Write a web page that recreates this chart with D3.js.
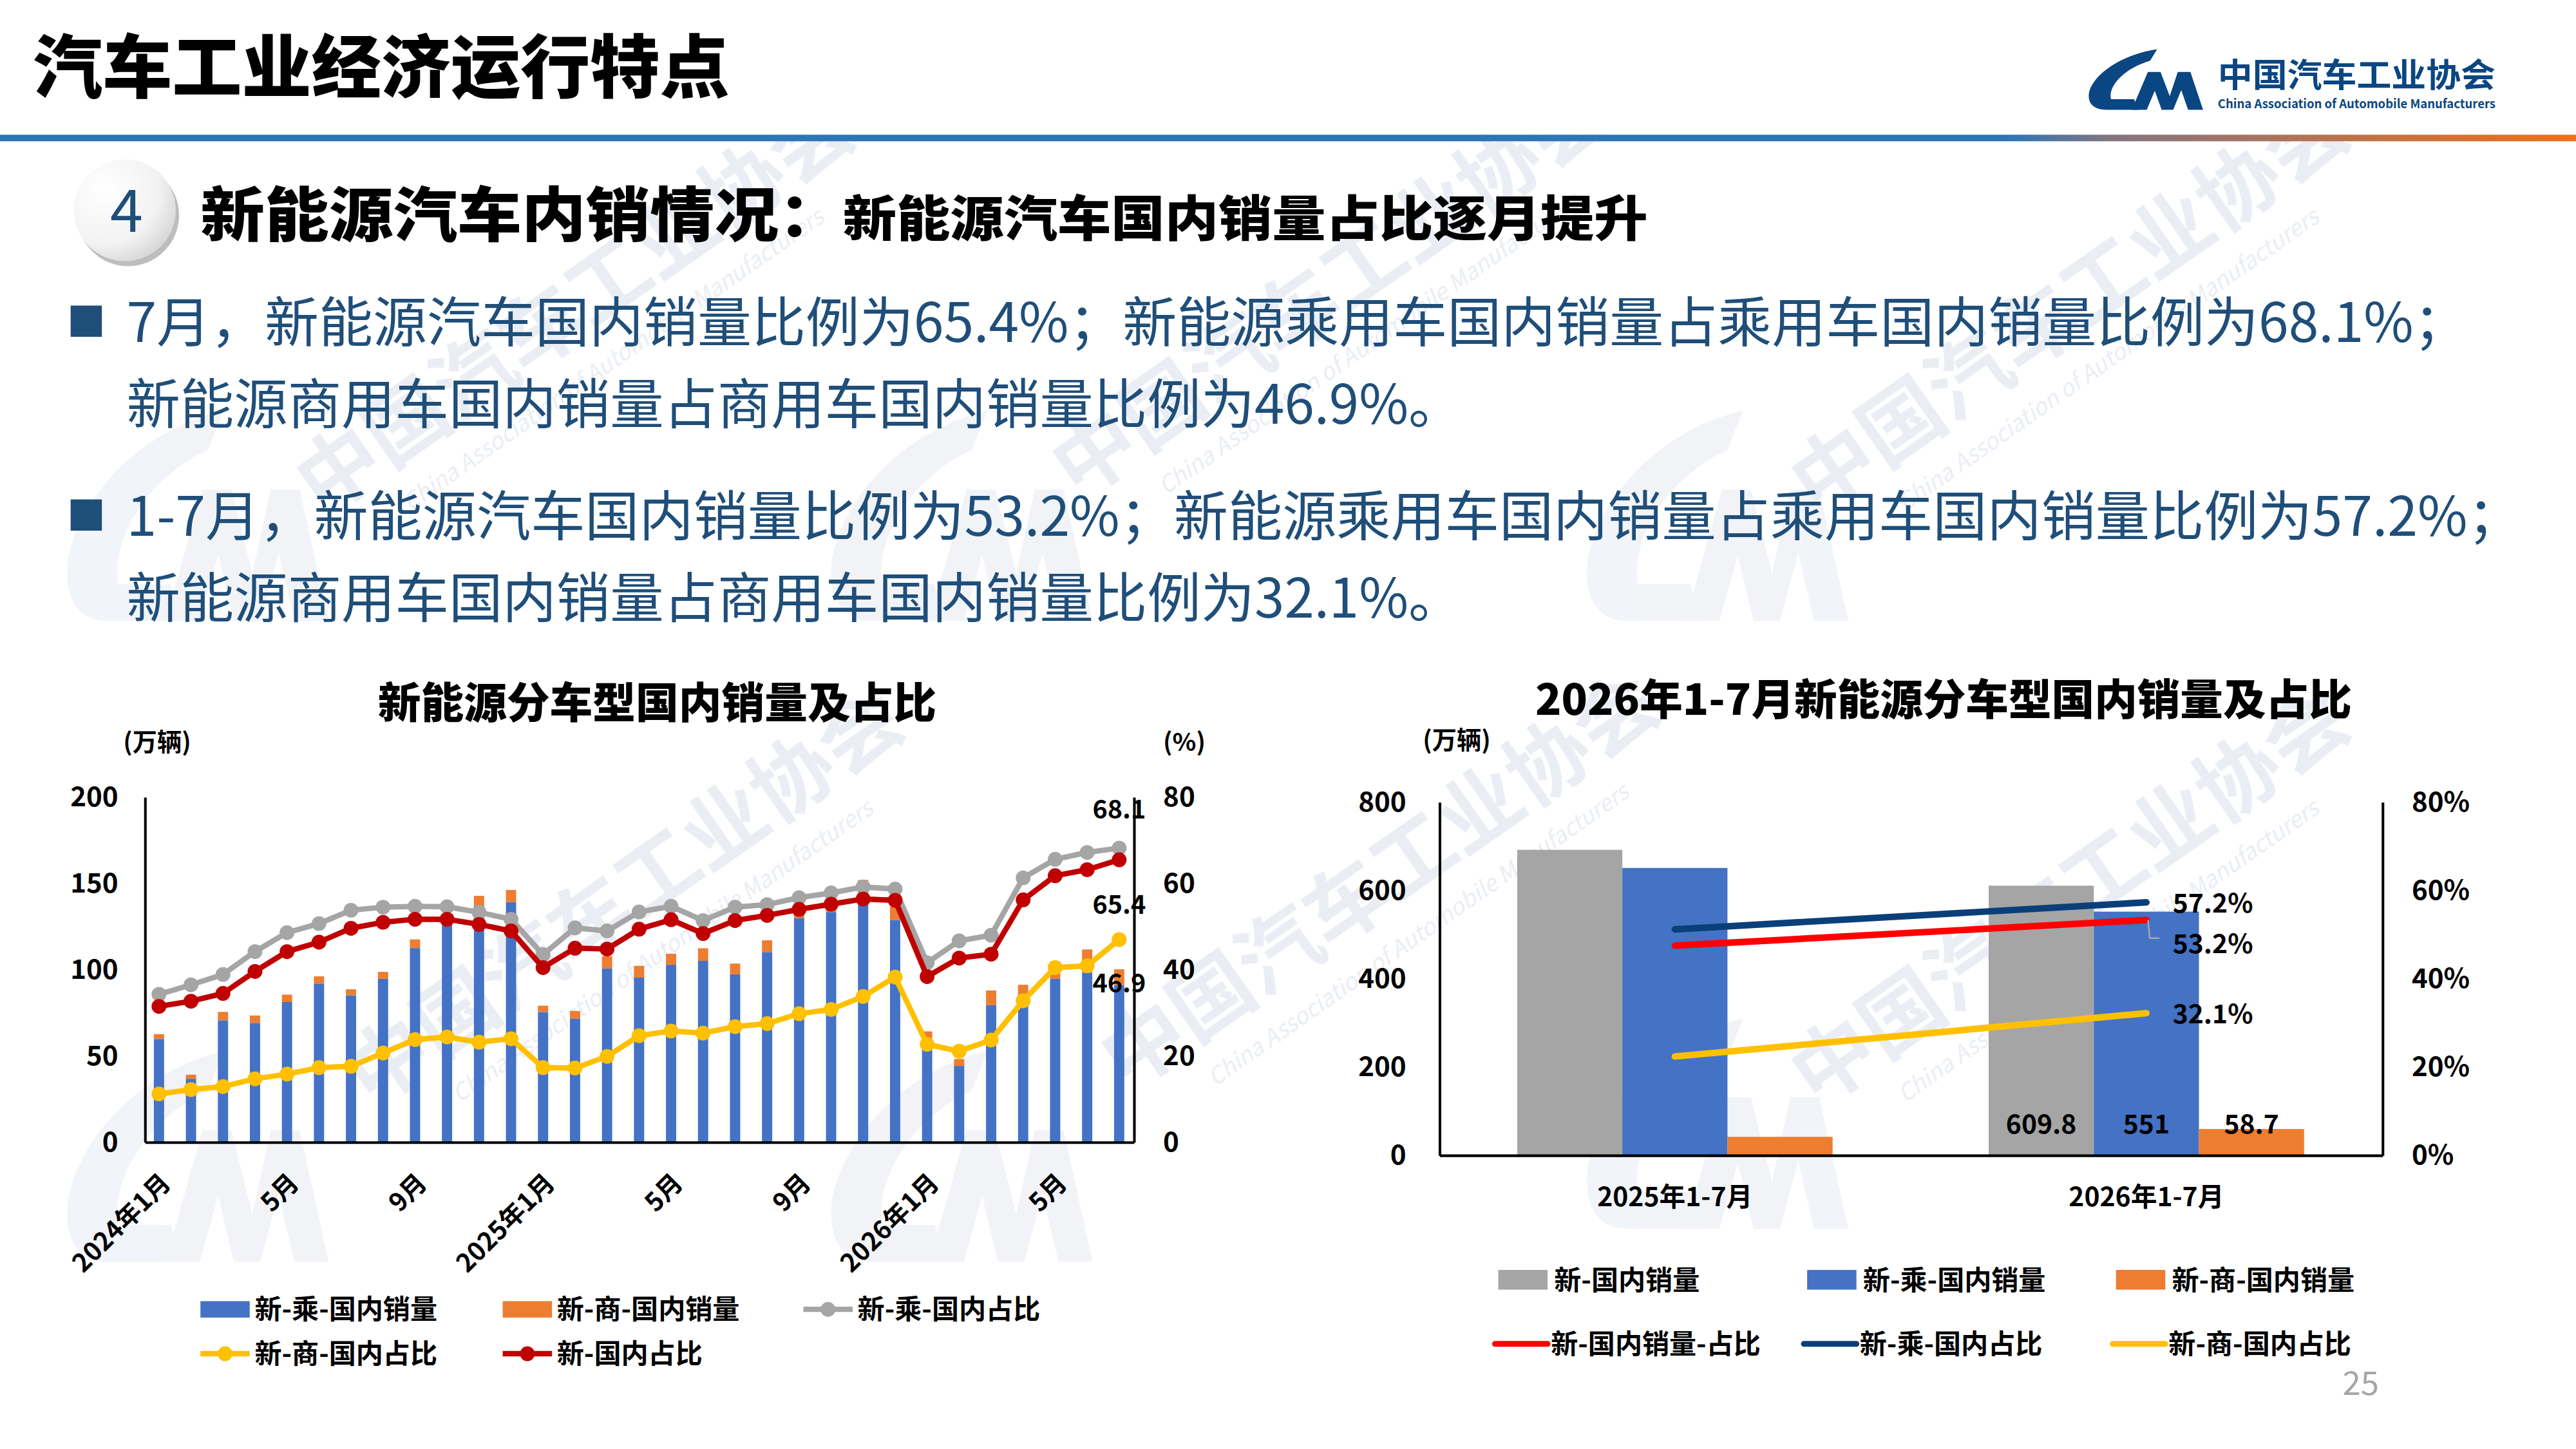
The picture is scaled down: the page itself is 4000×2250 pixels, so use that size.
<!DOCTYPE html>
<html>
<head>
<meta charset="utf-8">
<script src="https://cdn.jsdelivr.net/npm/d3@7"></script>
<style>
  html, body { margin: 0; padding: 0; background: #fff; }
  svg { display: block; }
  text { font-family: "Noto Sans CJK SC", "Noto Sans", sans-serif; }
</style>
</head>
<body>
<div id="slide"></div>
<script>
// ---- data ----
const months = ["2024年1月","2月","3月","4月","5月","6月","7月","8月","9月","10月","11月","12月",
  "2025年1月","2月","3月","4月","5月","6月","7月","8月","9月","10月","11月","12月",
  "2026年1月","2月","3月","4月","5月","6月","7月"];
const paxSales = [59.6,36.5,70.4,68.9,81.0,91.7,84.9,94.5,112.3,125.8,136.9,139.0,
  75.2,71.5,100.5,95.2,102.6,104.9,97.1,110.0,129.8,133.2,146.0,128.6,
  59.0,44.0,79.2,85.0,94.5,98.1,90.9];
const comSales = [2.8,2.4,4.9,4.3,4.3,4.2,3.5,4.0,5.0,3.5,5.7,7.0,
  3.7,4.3,7.1,6.8,6.4,7.3,6.2,6.8,4.0,4.5,5.8,7.9,
  5.0,4.0,8.5,6.0,10.0,13.4,9.1];
const paxShare = [34.2,36.4,38.8,44.1,48.5,50.6,53.7,54.4,54.6,54.5,53.2,51.6,
  43.4,49.6,48.9,53.3,54.6,51.3,54.4,55.0,56.6,57.7,59.1,58.6,
  41.5,46.6,47.9,61.2,65.5,67.1,68.1];
const comShare = [11.1,12.1,12.8,14.6,15.7,17.2,17.5,20.6,23.7,24.3,23.1,23.9,
  17.2,17.1,19.8,24.6,25.7,25.2,26.7,27.4,29.7,30.7,33.7,38.2,
  22.6,21.0,23.6,32.7,40.4,40.8,46.9];
const totalShare = [31.4,32.6,34.4,39.5,44.1,46.3,49.5,50.9,51.6,51.6,50.4,48.9,
  40.4,44.9,44.7,49.3,51.5,48.3,51.3,52.5,53.9,55.1,56.3,56.0,
  38.3,42.6,43.5,56.1,61.7,63.1,65.4];
const monthTickIdx = [0,4,8,12,16,20,24,28];

const periods = ["2025年1-7月","2026年1-7月"];
const ytdTotal = [691, 609.8];
const ytdPax = [650, 551];
const ytdCom = [41, 58.7];
const ytdTotalShare = [47.4, 53.2];
const ytdPaxShare = [51.1, 57.2];
const ytdComShare = [22.3, 32.1];

const bullets = [
  "7月，新能源汽车国内销量比例为65.4%；新能源乘用车国内销量占乘用车国内销量比例为68.1%；",
  "新能源商用车国内销量占商用车国内销量比例为46.9%。",
  "1-7月，新能源汽车国内销量比例为53.2%；新能源乘用车国内销量占乘用车国内销量比例为57.2%；",
  "新能源商用车国内销量占商用车国内销量比例为32.1%。"
];

// ---- canvas: slide drawn in 1568x882 units, scaled to 4000x2250 ----
const W = 1568, H = 882;
const svg = d3.select("#slide").append("svg")
  .attr("width", 4000).attr("height", 2250)
  .attr("viewBox", `0 0 ${W} ${H}`);

const defs = svg.append("defs");
const lg = defs.append("linearGradient").attr("id", "rule").attr("x1", 0).attr("x2", 1);
[[0, "#2e75b6"], [0.78, "#2e75b6"], [0.82, "#857580"], [1, "#f07018"]].forEach(s =>
  lg.append("stop").attr("offset", s[0]).attr("stop-color", s[1]));
const rg = defs.append("radialGradient").attr("id", "badge").attr("cx", 0.3).attr("cy", 0.3).attr("r", 0.9);
rg.append("stop").attr("offset", 0).attr("stop-color", "#ffffff");
rg.append("stop").attr("offset", 0.6).attr("stop-color", "#f2f2f2");
rg.append("stop").attr("offset", 1).attr("stop-color", "#c8c8c8");

// ---- watermark ----
const wm = svg.append("g").attr("fill", "#e6ebf2");
const logoPathC = "M60 0 C32 6 6 30 1 56 C-1 70 4 80 16 80 L44 80 L40 66 L20 66 C17 50 30 26 54 15 Z";
const logoPathM = "M38 80 L52 30 L63 30 L71 62 L78 30 L89 30 L100 80 L87 80 L81 54 L74 80 L64 80 L58 55 L51 80 Z";
[[40, 250], [505, 250], [965, 250], [40, 640], [505, 640], [965, 620]].forEach(p => {
  const g = wm.append("g").attr("transform", `translate(${p[0]},${p[1]}) scale(1.6)`).attr("opacity", 0.55);
  g.append("path").attr("d", logoPathC);
  g.append("path").attr("d", logoPathM);
});
[[360, 200], [820, 190], [1270, 200], [390, 560], [850, 550], [1270, 560]].forEach(p => {
  const g = wm.append("g").attr("transform", `translate(${p[0]},${p[1]}) rotate(-35)`).attr("opacity", 0.8);
  g.append("text").attr("text-anchor", "middle").attr("font-size", 50).attr("font-weight", 700)
    .text("中国汽车工业协会");
  g.append("text").attr("text-anchor", "middle").attr("y", 28).attr("font-size", 14)
    .attr("font-style", "italic").attr("font-family", "Open Sans")
    .text("China Association of Automobile Manufacturers");
});

// ---- header ----
svg.append("rect").attr("x", 0).attr("y", 0).attr("width", W).attr("height", 82).attr("fill", "#fff");
svg.append("text").attr("x", 20).attr("y", 56).attr("font-size", 42).attr("font-weight", 900)
  .attr("textLength", 424).attr("lengthAdjust", "spacingAndGlyphs").text("汽车工业经济运行特点");
svg.append("rect").attr("x", 0).attr("y", 82).attr("width", W).attr("height", 4).attr("fill", "url(#rule)");

const logo = svg.append("g").attr("transform", "translate(1271,30) scale(0.7,0.46)").attr("fill", "#0a4682");
logo.append("path").attr("d", logoPathC);
logo.append("path").attr("d", logoPathM);
svg.append("text").attr("x", 1350).attr("y", 53).attr("font-size", 20).attr("font-weight", 700)
  .attr("fill", "#0a4682").attr("textLength", 169).attr("lengthAdjust", "spacingAndGlyphs").text("中国汽车工业协会");
svg.append("text").attr("x", 1350).attr("y", 66).attr("font-size", 7.5).attr("font-weight", 700)
  .attr("font-family", "Roboto").attr("fill", "#0a4682").attr("textLength", 169)
  .attr("lengthAdjust", "spacingAndGlyphs").text("China Association of Automobile Manufacturers");

// section badge + heading
svg.append("ellipse").attr("cx", 78).attr("cy", 131).attr("rx", 31).attr("ry", 31).attr("fill", "#bdbdbd");
svg.append("ellipse").attr("cx", 76).attr("cy", 128).attr("rx", 31).attr("ry", 31).attr("fill", "url(#badge)");
svg.append("text").attr("x", 77).attr("y", 141).attr("text-anchor", "middle").attr("font-size", 36)
  .attr("font-family", "Open Sans").attr("fill", "#1f4e79").text("4");
svg.append("text").attr("x", 122).attr("y", 144).attr("font-size", 36).attr("font-weight", 900)
  .attr("textLength", 391).attr("lengthAdjust", "spacingAndGlyphs").text("新能源汽车内销情况：");
svg.append("text").attr("x", 513).attr("y", 144).attr("font-size", 30).attr("font-weight", 900)
  .attr("textLength", 490).attr("lengthAdjust", "spacingAndGlyphs").text("新能源汽车国内销量占比逐月提升");

// bullets
const bulletY = [208, 258, 326, 376];
const bulletLen = [1425, 813, 1458, 813];
bullets.forEach((t, i) => {
  svg.append("text").attr("x", 77).attr("y", bulletY[i]).attr("font-size", 33).attr("fill", "#1f4e79")
    .attr("textLength", bulletLen[i]).attr("lengthAdjust", "spacingAndGlyphs").text(t);
});
[186, 304].forEach(y => svg.append("rect").attr("x", 43).attr("y", y).attr("width", 19).attr("height", 19).attr("fill", "#1f4e79"));

svg.append("text").attr("x", 1437).attr("y", 849).attr("text-anchor", "middle").attr("font-size", 20)
  .attr("fill", "#a6a6a6").text("25");

const C = { pax: "#4472c4", com: "#ed7d31", gray: "#a5a5a5", red: "#c00000", yellow: "#ffc000" };

function styleAxis(g) {
  g.select(".domain").attr("stroke", "#000").attr("stroke-width", 1.6);
  g.selectAll("text").attr("font-size", 16.5).attr("font-weight", 700).attr("fill", "#000")
    .attr("font-family", "Open Sans");
}

// ---- left chart: monthly ----
(function () {
  const left = 88, right = 690, top = 485, bottom = 695;
  const x = d3.scaleBand().domain(d3.range(months.length)).range([left, right])
    .paddingInner(0.68).paddingOuter(0.29);
  const yL = d3.scaleLinear().domain([0, 200]).range([bottom, top]);
  const yR = d3.scaleLinear().domain([0, 80]).range([bottom, top]);
  const cx = i => x(i) + x.bandwidth() / 2;
  const g = svg.append("g");

  g.append("text").attr("x", 400).attr("y", 437).attr("text-anchor", "middle").attr("font-size", 26)
    .attr("font-weight", 900).attr("textLength", 340).attr("lengthAdjust", "spacingAndGlyphs")
    .text("新能源分车型国内销量及占比");
  g.append("text").attr("x", 75).attr("y", 457).attr("font-size", 15).attr("font-weight", 700).text("(万辆)");
  g.append("text").attr("x", 708).attr("y", 457).attr("font-size", 15).attr("font-weight", 700).text("(%)");

  g.append("g").attr("transform", `translate(${left},0)`)
    .call(d3.axisLeft(yL).tickValues([0, 50, 100, 150, 200]).tickSize(0).tickPadding(16))
    .call(styleAxis);
  g.append("g").attr("transform", `translate(${right},0)`)
    .call(d3.axisRight(yR).tickValues([0, 20, 40, 60, 80]).tickSize(0).tickPadding(18))
    .call(styleAxis);

  // stacked bars
  g.append("g").selectAll("rect.pax").data(paxSales).join("rect")
    .attr("x", (d, i) => x(i)).attr("width", x.bandwidth())
    .attr("y", d => yL(d)).attr("height", d => bottom - yL(d)).attr("fill", C.pax);
  g.append("g").selectAll("rect.com").data(comSales).join("rect")
    .attr("x", (d, i) => x(i)).attr("width", x.bandwidth())
    .attr("y", (d, i) => yL(paxSales[i] + d)).attr("height", (d, i) => yL(paxSales[i]) - yL(paxSales[i] + d))
    .attr("fill", C.com);

  const xa = g.append("g").attr("transform", `translate(0,${bottom})`)
    .call(d3.axisBottom(x).tickValues(monthTickIdx).tickFormat(i => months[i]).tickSize(0))
    .call(styleAxis);
  xa.selectAll("text").attr("font-size", 15.5).attr("font-family", "Noto Sans CJK SC")
    .attr("text-anchor", "end").attr("dx", 0).attr("dy", 0)
    .attr("transform", "translate(6,24) rotate(-45)");

  const line = d3.line().x((d, i) => cx(i)).y(d => yR(d));
  [[paxShare, C.gray], [comShare, C.yellow], [totalShare, C.red]].forEach(([s, col]) => {
    g.append("path").datum(s).attr("d", line).attr("fill", "none").attr("stroke", col)
      .attr("stroke-width", 3.3).attr("stroke-linejoin", "round");
    g.append("g").selectAll("circle").data(s).join("circle")
      .attr("cx", (d, i) => cx(i)).attr("cy", d => yR(d)).attr("r", 4.5).attr("fill", col);
  });

  const last = months.length - 1;
  [[paxShare, -24], [totalShare, 27], [comShare, 26]].forEach(([s, off]) => {
    g.append("text").attr("x", cx(last)).attr("y", yR(s[last]) + off + 6).attr("text-anchor", "middle")
      .attr("font-size", 15.5).attr("font-weight", 700).attr("font-family", "Open Sans")
      .text(s[last].toFixed(1));
  });

  // legend
  const items = [
    { t: "新-乘-国内销量", c: C.pax, k: "rect", x: 122, y: 797 },
    { t: "新-商-国内销量", c: C.com, k: "rect", x: 306, y: 797 },
    { t: "新-乘-国内占比", c: C.gray, k: "line", x: 489, y: 797 },
    { t: "新-商-国内占比", c: C.yellow, k: "line", x: 122, y: 824 },
    { t: "新-国内占比", c: C.red, k: "line", x: 306, y: 824 }
  ];
  const lgnd = g.append("g");
  items.forEach(it => {
    if (it.k === "rect") {
      lgnd.append("rect").attr("x", it.x).attr("y", it.y - 5).attr("width", 30).attr("height", 10).attr("fill", it.c);
    } else {
      lgnd.append("line").attr("x1", it.x).attr("x2", it.x + 30).attr("y1", it.y).attr("y2", it.y)
        .attr("stroke", it.c).attr("stroke-width", 3.3);
      lgnd.append("circle").attr("cx", it.x + 15).attr("cy", it.y).attr("r", 4.5).attr("fill", it.c);
    }
    lgnd.append("text").attr("x", it.x + 33).attr("y", it.y + 6).attr("font-size", 16.5)
      .attr("font-weight", 700).text(it.t);
  });
})();

// ---- right chart: Jan-Jul comparison ----
(function () {
  const left = 876, right = 1450, top = 488, bottom = 703;
  const x = d3.scaleBand().domain(periods).range([left, right]);
  const inner = d3.scaleBand().domain(["total", "pax", "com"]).range([-96, 96]);
  const yL = d3.scaleLinear().domain([0, 800]).range([bottom, top]);
  const yR = d3.scaleLinear().domain([0, 0.8]).range([bottom, top]);
  const cx = p => x(p) + x.bandwidth() / 2;
  const g = svg.append("g");

  g.append("text").attr("x", 1183).attr("y", 435).attr("text-anchor", "middle").attr("font-size", 26)
    .attr("font-weight", 900).attr("textLength", 497).attr("lengthAdjust", "spacingAndGlyphs")
    .text("2026年1-7月新能源分车型国内销量及占比");
  g.append("text").attr("x", 866).attr("y", 456).attr("font-size", 15).attr("font-weight", 700).text("(万辆)");

  g.append("g").attr("transform", `translate(${left},0)`)
    .call(d3.axisLeft(yL).tickValues([0, 200, 400, 600, 800]).tickSize(0).tickPadding(20))
    .call(styleAxis);
  g.append("g").attr("transform", `translate(${right},0)`)
    .call(d3.axisRight(yR).tickValues([0, 0.2, 0.4, 0.6, 0.8]).tickFormat(d3.format(".0%")).tickSize(0).tickPadding(18))
    .call(styleAxis);

  const series = [
    { k: "total", v: ytdTotal, c: C.gray },
    { k: "pax", v: ytdPax, c: C.pax },
    { k: "com", v: ytdCom, c: C.com }
  ];
  series.forEach(s => {
    g.append("g").selectAll("rect").data(s.v).join("rect")
      .attr("x", (d, i) => cx(periods[i]) + inner(s.k)).attr("width", inner.bandwidth())
      .attr("y", d => yL(d)).attr("height", d => bottom - yL(d)).attr("fill", s.c);
    // value labels only on the current period
    g.append("text").attr("x", cx(periods[1]) + inner(s.k) + inner.bandwidth() / 2).attr("y", 690)
      .attr("text-anchor", "middle").attr("font-size", 16).attr("font-weight", 700)
      .attr("font-family", "Open Sans").text(s.v[1]);
  });

  const xa = g.append("g").attr("transform", `translate(0,${bottom})`)
    .call(d3.axisBottom(x).tickSize(0).tickPadding(20)).call(styleAxis);
  xa.selectAll("text").attr("font-family", "Noto Sans CJK SC").attr("font-size", 16);

  const lines = [
    { v: ytdTotalShare, c: "#ff0000", dy: 20 },
    { v: ytdPaxShare, c: "#0b3f7a", dy: 6 },
    { v: ytdComShare, c: "#ffc000", dy: 6 }
  ];
  const line = d3.line().x((d, i) => cx(periods[i])).y(d => yR(d / 100));
  lines.forEach(l => {
    g.append("path").datum(l.v).attr("d", line).attr("fill", "none").attr("stroke", l.c)
      .attr("stroke-width", 4).attr("stroke-linecap", "round");
    g.append("text").attr("x", cx(periods[1]) + 16).attr("y", yR(l.v[1] / 100) + l.dy)
      .attr("font-size", 16).attr("font-weight", 700).attr("font-family", "Open Sans")
      .text(l.v[1].toFixed(1) + "%");
  });
  // leader for the total-share label
  const ly = yR(ytdTotalShare[1] / 100);
  g.append("path").attr("d", `M${cx(periods[1]) + 1},${ly} L${cx(periods[1]) + 2},${ly + 11} L${cx(periods[1]) + 8},${ly + 11}`)
    .attr("fill", "none").attr("stroke", "#a6a6a6").attr("stroke-width", 1);

  const items = [
    { t: "新-国内销量", c: C.gray, k: "rect", x: 912, y: 779 },
    { t: "新-乘-国内销量", c: C.pax, k: "rect", x: 1100, y: 779 },
    { t: "新-商-国内销量", c: C.com, k: "rect", x: 1288, y: 779 },
    { t: "新-国内销量-占比", c: "#ff0000", k: "line", x: 910, y: 818 },
    { t: "新-乘-国内占比", c: "#0b3f7a", k: "line", x: 1098, y: 818 },
    { t: "新-商-国内占比", c: "#ffc000", k: "line", x: 1286, y: 818 }
  ];
  items.forEach(it => {
    if (it.k === "rect") {
      g.append("rect").attr("x", it.x).attr("y", it.y - 6).attr("width", 30).attr("height", 12).attr("fill", it.c);
    } else {
      g.append("line").attr("x1", it.x).attr("x2", it.x + 32).attr("y1", it.y).attr("y2", it.y)
        .attr("stroke", it.c).attr("stroke-width", 3.5).attr("stroke-linecap", "round");
    }
    g.append("text").attr("x", it.x + 34).attr("y", it.y + 6).attr("font-size", 16.5)
      .attr("font-weight", 700).text(it.t);
  });
})();
</script>
</body>
</html>
